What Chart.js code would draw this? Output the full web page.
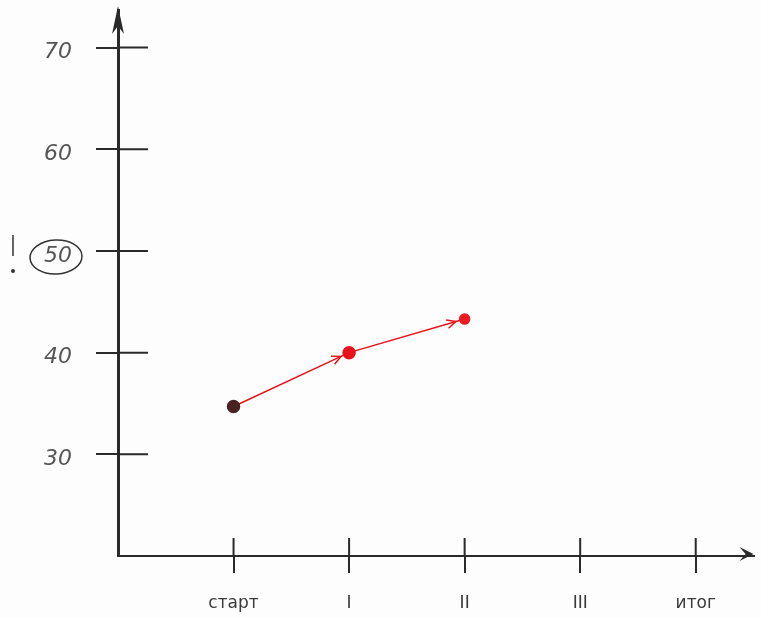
<!DOCTYPE html>
<html>
<head>
<meta charset="utf-8">
<script src="https://cdn.jsdelivr.net/npm/chart.js@4.4.1/dist/chart.umd.min.js"></script>
<style>
  body { margin: 0; background: #fdfdfd; }
  canvas { display: block; }
</style>
</head>
<body>
<canvas id="myLineChart" width="761" height="618"></canvas>
<script>
const etapas = ['старт', 'I', 'II', 'III', 'итог'];
const posiciones = [1, 2, 3];
const valores = [34.7, 40.0, 43.3];
const marcasY = [30, 40, 50, 60, 70];
const colorPuntos = ['#4a2222', '#e8121c', '#ee1a20'];
const radioPuntos = [6, 6, 5];

document.addEventListener("DOMContentLoaded", () => {

    // dibuja la parte interior de las marcas, flechas de los ejes y detalles
    const dibujoExtra = {
        id: 'dibujoExtra',
        beforeDatasetsDraw(chart) {
            const ctx = chart.ctx;
            const area = chart.chartArea;
            const x = chart.scales.x;
            const y = chart.scales.y;
            ctx.save();
            ctx.strokeStyle = '#2a2a2a';
            ctx.lineWidth = 2;
            ctx.beginPath();
            y.ticks.forEach(t => {
                const py = y.getPixelForValue(t.value);
                ctx.moveTo(area.left, py);
                ctx.lineTo(area.left + 30, py);
            });
            x.ticks.forEach(t => {
                const px = x.getPixelForValue(t.value);
                ctx.moveTo(px, area.bottom);
                ctx.lineTo(px, area.bottom - 18);
            });
            ctx.stroke();

            // flechas de los ejes
            ctx.fillStyle = '#2a2a2a';
            ctx.beginPath();
            ctx.moveTo(area.left, area.top - 4);
            ctx.lineTo(area.left - 6, area.top + 24);
            ctx.lineTo(area.left, area.top + 16);
            ctx.lineTo(area.left + 6, area.top + 24);
            ctx.closePath();
            ctx.fill();
            ctx.beginPath();
            ctx.moveTo(area.right, area.bottom - 2);
            ctx.lineTo(area.right - 14, area.bottom - 9);
            ctx.lineTo(area.right - 8, area.bottom - 2);
            ctx.lineTo(area.right - 14, area.bottom + 5);
            ctx.closePath();
            ctx.fill();

            // circulo alrededor del 50 y signo de exclamacion
            const p50 = y.getPixelForValue(50);
            ctx.strokeStyle = '#333';
            ctx.lineWidth = 1.5;
            ctx.beginPath();
            ctx.ellipse(56, p50 + 6, 26, 17, -0.05, 0, Math.PI * 2);
            ctx.stroke();
            ctx.beginPath();
            ctx.moveTo(13, p50 - 16);
            ctx.lineTo(13, p50 + 5);
            ctx.stroke();
            ctx.fillStyle = '#333';
            ctx.beginPath();
            ctx.arc(13, p50 + 20, 2, 0, Math.PI * 2);
            ctx.fill();
            ctx.restore();
        },
        afterDatasetsDraw(chart) {
            // puntas de flecha sobre la linea roja
            const ctx = chart.ctx;
            const pts = chart.getDatasetMeta(0).data;
            ctx.save();
            ctx.strokeStyle = '#e8121c';
            ctx.lineWidth = 1.5;
            for (let i = 1; i < pts.length; i++) {
                const a = pts[i - 1];
                const b = pts[i];
                const ang = Math.atan2(b.y - a.y, b.x - a.x);
                const tx = b.x - Math.cos(ang) * 9;
                const ty = b.y - Math.sin(ang) * 9;
                ctx.beginPath();
                ctx.moveTo(tx - Math.cos(ang - 0.45) * 10, ty - Math.sin(ang - 0.45) * 10);
                ctx.lineTo(tx, ty);
                ctx.lineTo(tx - Math.cos(ang + 0.45) * 10, ty - Math.sin(ang + 0.45) * 10);
                ctx.stroke();
            }
            ctx.restore();
        }
    };

    const ctx = document.getElementById('myLineChart').getContext('2d');
    window.myLineChart = new Chart(ctx, {
        type: 'line',
        data: {
            datasets: [{
                label: 'Producción',
                data: posiciones.map((p, i) => ({ x: p, y: valores[i] })),
                borderColor: '#e8121c',
                borderWidth: 1.5,
                pointBackgroundColor: colorPuntos,
                pointBorderColor: colorPuntos,
                pointRadius: radioPuntos,
                clip: false
            }]
        },
        options: {
            responsive: false,
            animation: false,
            layout: { padding: { top: 10, right: 6, left: 0, bottom: 0 } },
            plugins: { legend: { display: false }, tooltip: { enabled: false } },
            scales: {
                x: {
                    type: 'linear',
                    min: 0,
                    max: 5.5,
                    afterBuildTicks: s => { s.ticks = etapas.map((e, i) => ({ value: i + 1 })); },
                    afterFit: s => { s.height = 62; s.paddingLeft = 0; s.paddingRight = 0; },
                    border: { color: '#2a2a2a', width: 2 },
                    grid: { drawOnChartArea: false, tickLength: 17, color: '#2a2a2a', lineWidth: 2 },
                    ticks: {
                        padding: 20,
                        color: '#3a3a3a',
                        font: { family: 'DejaVu Sans', size: 17 },
                        callback: v => etapas[v - 1] || ''
                    }
                },
                y: {
                    min: 20,
                    max: 73.7,
                    afterBuildTicks: s => { s.ticks = marcasY.map(v => ({ value: v })); },
                    afterFit: s => { s.width = 118; s.paddingTop = 0; s.paddingBottom = 0; },
                    border: { color: '#2a2a2a', width: 3 },
                    grid: { drawOnChartArea: false, tickLength: 22, color: '#2a2a2a', lineWidth: 2 },
                    ticks: {
                        padding: 24,
                        labelOffset: 5,
                        color: '#555',
                        font: { family: 'DejaVu Sans', size: 22, style: 'italic', weight: 300 }
                    }
                }
            }
        },
        plugins: [dibujoExtra]
    });
});
</script>
</body>
</html>
